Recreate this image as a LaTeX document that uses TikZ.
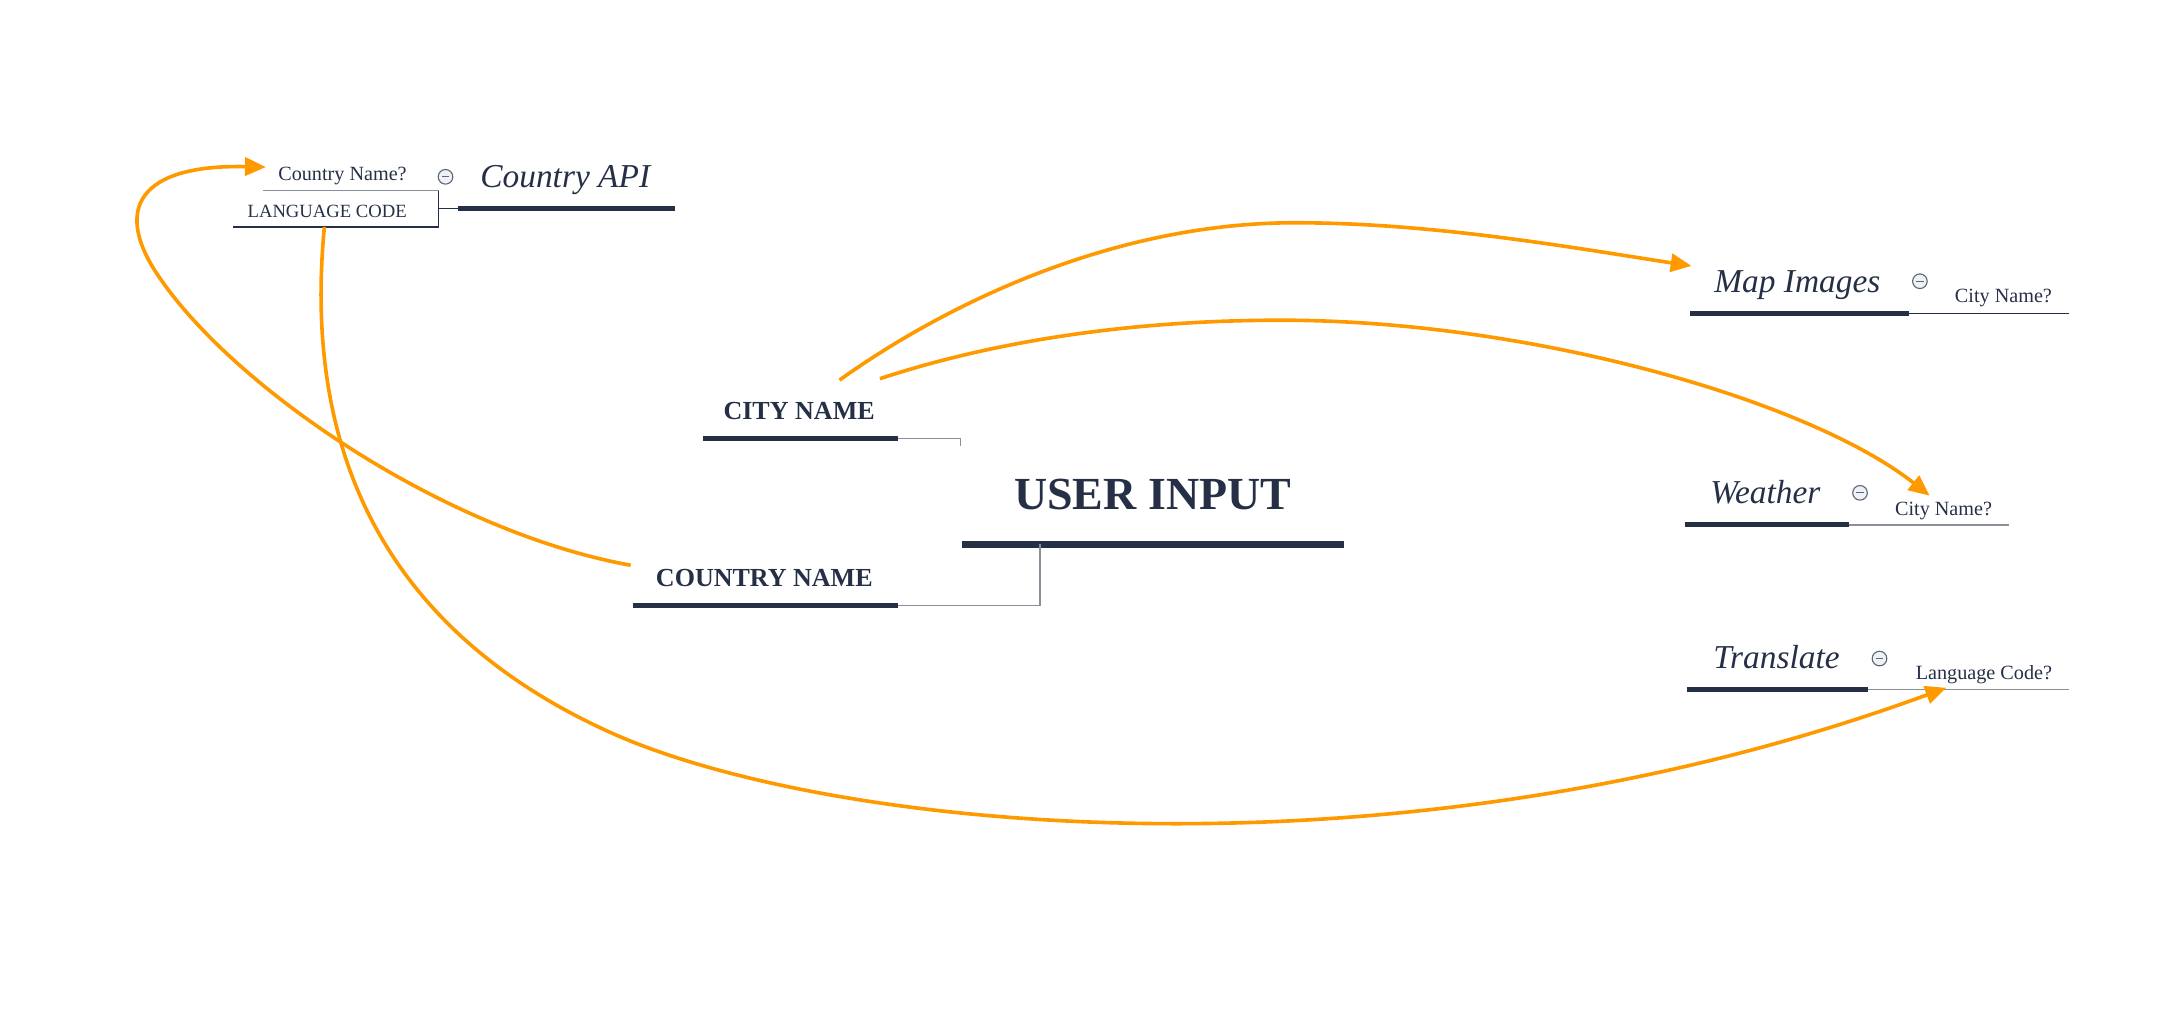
\documentclass[tikz,border=0pt]{standalone}
\usepackage{fontspec}
\setmainfont{Liberation Serif}
\usetikzlibrary{arrows.meta}
\definecolor{navy}{HTML}{253047}
\definecolor{thingray}{HTML}{8A8F9C}
\definecolor{icongray}{HTML}{5F6675}
\definecolor{iconfill}{HTML}{EEF1F5}
\definecolor{flowc}{HTML}{FF9900}
\begin{document}
\begin{tikzpicture}[x=1pt,y=-1pt,
  thickline/.style={navy, line width=3.6pt},
  mainline/.style={navy, line width=4.8pt},
  thinline/.style={thingray, line width=0.9pt},
  darkthin/.style={navy, line width=0.9pt},
  flow/.style={flowc, line width=2.6pt, -{Triangle[length=15pt,width=13pt]}},
  bigtxt/.style={text=navy, inner sep=0, anchor=base, font=\fontsize{33}{36}\selectfont\bfseries},
  captxt/.style={text=navy, inner sep=0, anchor=base, font=\fontsize{18.7}{21}\selectfont\bfseries},
  ittxt/.style={text=navy, inner sep=0, anchor=base, font=\fontsize{24}{27}\selectfont\itshape},
  smtxt/.style={text=navy, inner sep=0, anchor=base, font=\fontsize{14.5}{16}\selectfont},
  lctxt/.style={text=navy, inner sep=0, anchor=base, font=\fontsize{13.4}{15}\selectfont},
  minusicon/.style={circle, draw=icongray, fill=iconfill, line width=0.8pt, minimum size=10.5pt, inner sep=0,
    path picture={\draw[icongray, line width=0.8pt] ([xshift=-2.6pt]path picture bounding box.center) -- ([xshift=2.6pt]path picture bounding box.center);}}
]
\useasboundingbox (0,0) rectangle (1568,742);

% ---------- texts ----------
\node[bigtxt] (ui) at (828,366) {USER INPUT};
\node[captxt] (city) at (574,301) {CITY NAME};
\node[captxt] (country) at (549,421) {COUNTRY NAME};
\node[ittxt] (capi) at (406,135) {Country API};
\node[ittxt] (map) at (1291,210) {Map Images};
\node[ittxt] (weather) at (1268,362) {Weather};
\node[ittxt] (translate) at (1276,480) {Translate};
\node[smtxt] (cnq) at (246,130) {Country Name?};
\node[lctxt] (lc) at (235,156) {LANGUAGE CODE};
\node[smtxt] (mapq) at (1439,217) {City Name?};
\node[smtxt] (weatherq) at (1396,370) {City Name?};
\node[smtxt] (transq) at (1425,488) {Language Code?};

% ---------- icons ----------
\node[minusicon] (i1) at (320,127) {};
\node[minusicon] (i2) at (1379,202) {};
\node[minusicon] (i3) at (1336,354) {};
\node[minusicon] (i4) at (1350,473) {};

% ---------- coordinates ----------
\coordinate (uiL) at (691,391); \coordinate (uiR) at (965,391);
\coordinate (uiJ) at (747,391); \coordinate (uiJd) at (747,435);
\coordinate (cityL) at (505,315); \coordinate (cityR) at (645,315);
\coordinate (cityT) at (690,315); \coordinate (cityTd) at (690,320);
\coordinate (ctyL) at (455,435); \coordinate (ctyR) at (645,435);
\coordinate (capiL) at (329,150); \coordinate (capiR) at (485,150);
\coordinate (boxTL) at (189,137); \coordinate (boxTR) at (315,137);
\coordinate (boxBL) at (167,163); \coordinate (boxBR) at (315,163);
\coordinate (boxM) at (315,150);
\coordinate (mapL) at (1214,225); \coordinate (mapR) at (1371,225); \coordinate (mapE) at (1486,225);
\coordinate (wL) at (1210,377); \coordinate (wR) at (1328,377); \coordinate (wE) at (1443,377);
\coordinate (tL) at (1212,495); \coordinate (tR) at (1342,495); \coordinate (tE) at (1486,495);

% ---------- underlines and connectors ----------
\draw[mainline] (uiL) -- (uiR);
\draw[thickline] (cityL) -- (cityR);
\draw[thickline] (ctyL) -- (ctyR);
\draw[thinline] (cityR) -- (cityT) -- (cityTd);
\draw[thinline] (uiJ) -- (uiJd) -- (ctyR);
\draw[thickline] (capiL) -- (capiR);
\draw[darkthin] (boxM) -- (capiL);
\draw[thinline] (boxTL) -- (boxTR);
\draw[darkthin] (boxTR) -- (boxBR) -- (boxBL);
\draw[thickline] (mapL) -- (mapR);
\draw[darkthin] (mapR) -- (mapE);
\draw[thickline] (wL) -- (wR);
\draw[thinline] (wR) -- (wE);
\draw[thickline] (tL) -- (tR);
\draw[thinline] (tR) -- (tE);

% ---------- orange flows ----------
\coordinate (f1s) at (603,273); \coordinate (f1e) at (1215,191);
\coordinate (f2s) at (632,272); \coordinate (f2e) at (1386,356);
\coordinate (f3s) at (453,406); \coordinate (f3e) at (191,120);
\coordinate (f4s) at (233,163); \coordinate (f4e) at (1398,494);
\draw[flow] (f1s) .. controls (680,218) and (800,160) .. (930,160)
  .. controls (1030,160) and (1130,178) .. (f1e);
\draw[flow] (f2s) .. controls (720,243) and (820,230) .. (920,230)
  .. controls (1100,230) and (1300,288) .. (f2e);
\draw[flow] (f3s) .. controls (320,382) and (170,280) .. (115,200)
  .. controls (80,150) and (100,118) .. (f3e);
\draw[flow] (f4s) .. controls (216,340) and (290,458) .. (436,525)
  .. controls (590,596) and (1000,640) .. (f4e);
\end{tikzpicture}
\end{document}
